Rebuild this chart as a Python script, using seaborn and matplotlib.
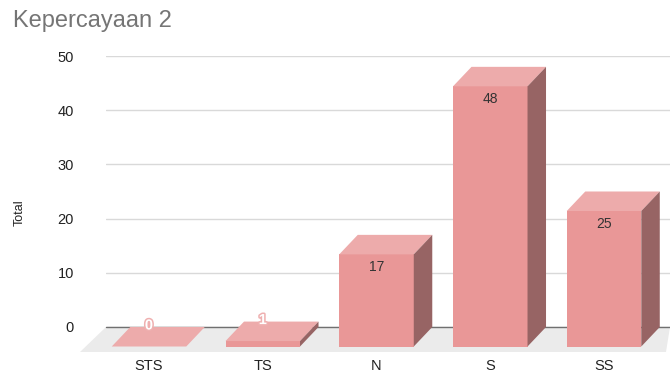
import matplotlib
matplotlib.use("Agg")
import matplotlib.pyplot as plt
import matplotlib.patheffects as pe
import seaborn as sns
import pandas as pd
from matplotlib.patches import Polygon

# Survey answers and their counts
categories = ["STS", "TS", "N", "S", "SS"]
totals = [0, 1, 17, 48, 25]
y_ticks = [0, 10, 20, 30, 40, 50]

title = "Kepercayaan 2"
y_label = "Total"

FRONT = "#e99797"
TOP = "#edabab"
SIDE = "#976464"
FLOOR = "#ebebeb"
GRID = "#d9d9d9"
BASE = "#707070"
TEXT = "#222222"

sns.set_theme(style="white")
plt.rcParams["font.family"] = ["Liberation Sans", "DejaVu Sans"]

W, H, DPI = 670, 374, 100
fig = plt.figure(figsize=(W / DPI, H / DPI), dpi=DPI)
ax = fig.add_axes([106 / W, 47 / H, 564 / W, 271 / H])

df = pd.DataFrame({"answer": categories, "total": totals})
sns.barplot(data=df, x="answer", y="total", order=categories, color=FRONT,
            saturation=1, width=0.655, linewidth=0, ax=ax, zorder=4)
bars = list(ax.patches)

ax.set_xlim(-0.378, 4.58)
ax.set_ylim(0, 50)

# pixel -> data unit conversion for the 3D depth effect
x_per_px = (ax.get_xlim()[1] - ax.get_xlim()[0]) / 564
y_per_px = (ax.get_ylim()[1] - ax.get_ylim()[0]) / 271
dx = 18.5 * x_per_px
dy = 19.5 * y_per_px

# floor under the bars
xl, xr = ax.get_xlim()
fd = 25 * y_per_px
fdx = 26 * x_per_px
floor = Polygon([(xl, 0), (xr, 0), (xr - 4 * x_per_px, -fd), (xl - fdx, -fd)],
                closed=True, facecolor=FLOOR, edgecolor="none",
                zorder=1, clip_on=False)
ax.add_patch(floor)
ax.axhline(0, color=BASE, lw=1, zorder=2, clip_on=False)

# extrude each bar: front face moves forward, add top and side faces
for p, v in zip(bars, totals):
    x0, w, h = p.get_x(), p.get_width(), p.get_height()
    p.set_y(-dy)
    p.set_clip_on(False)
    top = Polygon([(x0, h - dy), (x0 + w, h - dy), (x0 + w + dx, h), (x0 + dx, h)],
                  closed=True, facecolor=TOP, edgecolor="none", zorder=4, clip_on=False)
    side = Polygon([(x0 + w, h - dy), (x0 + w + dx, h), (x0 + w + dx, 0), (x0 + w, -dy)],
                   closed=True, facecolor=SIDE, edgecolor="none", zorder=4, clip_on=False)
    ax.add_patch(top)
    ax.add_patch(side)
    cx = x0 + w / 2
    if v >= 5:
        ax.text(cx, h - dy - 13 * y_per_px, str(v), ha="center", va="center",
                fontsize=10, color="#333333", zorder=6)
    else:
        ax.text(cx, h + 1.5 * y_per_px, str(v), ha="center", va="center",
                fontsize=10.5, color="white", fontweight="bold", zorder=6,
                path_effects=[pe.withStroke(linewidth=2.2, foreground="#efb0b0")])

ax.set_yticks(y_ticks)
ax.yaxis.grid(True, color=GRID, lw=1)
ax.xaxis.grid(False)
ax.set_axisbelow(True)
for s in ax.spines.values():
    s.set_visible(False)

ax.tick_params(axis="y", length=0, pad=23, labelsize=10.5, labelcolor=TEXT)
ax.tick_params(axis="x", length=0, pad=23, labelsize=10.5, labelcolor=TEXT)
ax.set_xlabel("")
ax.set_ylabel(y_label, fontsize=9, color=TEXT)
ax.yaxis.set_label_coords(-0.142, 0.42)

fig.text(13 / W, 1 - 21 / H, title, fontsize=17, color="#757575",
         ha="left", va="center")

fig.savefig("out.png", dpi=DPI)
